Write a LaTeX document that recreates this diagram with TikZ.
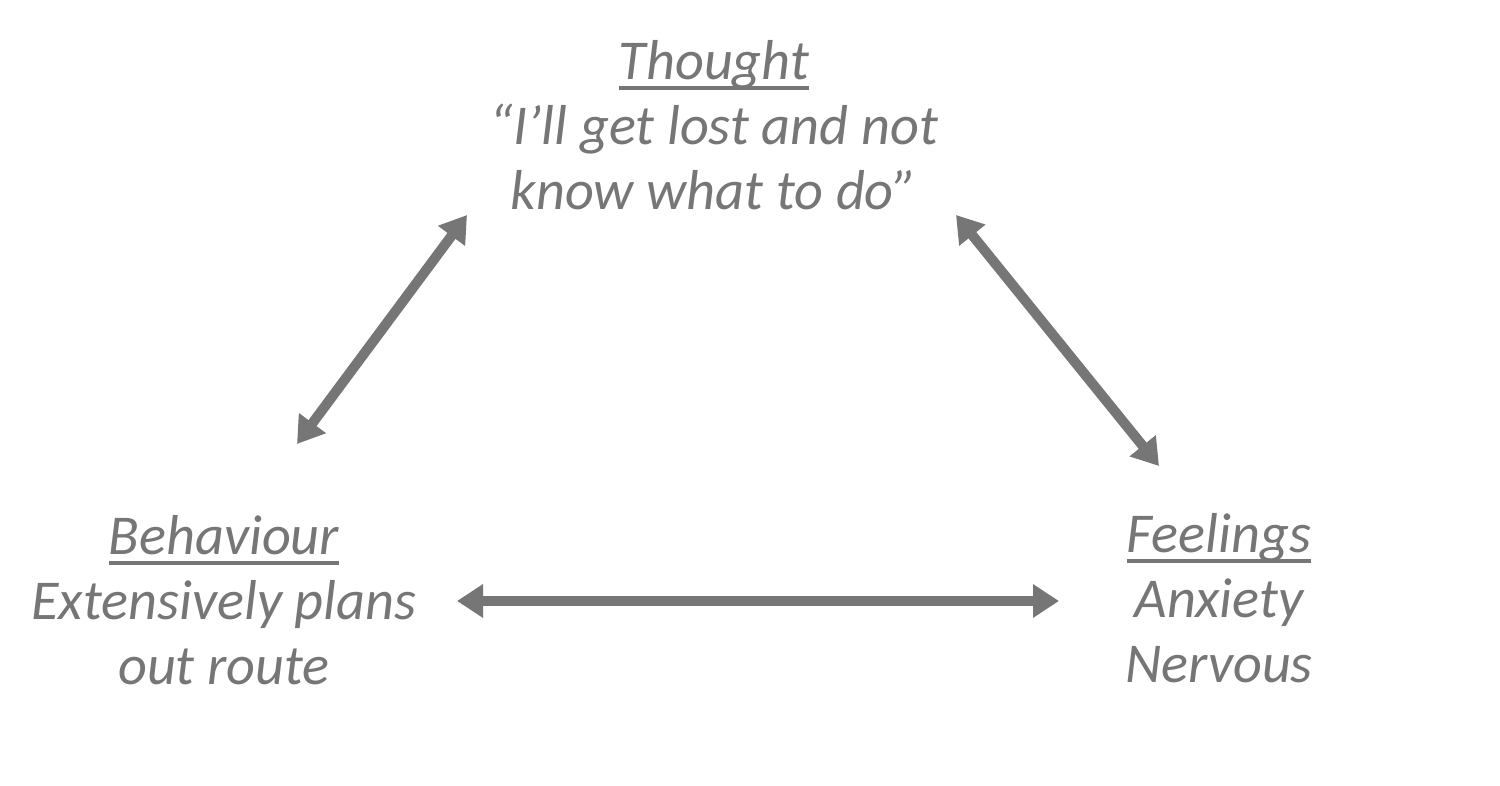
\documentclass[tikz,border=0pt]{standalone}
\usepackage{fontspec}
\setmainfont{Carlito}
\usetikzlibrary{arrows.meta}

\definecolor{cbtgray}{RGB}{118,118,118}
\newcommand{\headline}[1]{\setbox0\hbox{#1}\rlap{\color{cbtgray}\rule[-0.1cm]{\wd0}{0.035cm}}\box0}

\tikzset{
  cbtlabel/.style={text=cbtgray, align=center, inner sep=0pt,
    font=\fontsize{16pt}{18.4pt}\selectfont\itshape},
  cbtarrow/.style={draw=cbtgray, line width=0.1cm,
    {Triangle[length=0.26cm,width=0.32cm]}-{Triangle[length=0.26cm,width=0.32cm]}}
}

\begin{document}
\begin{tikzpicture}[x=0.01cm, y=-0.01cm]
    \useasboundingbox (0,0) rectangle (1500,786);
    \node[cbtlabel] (thought) at (714,125) {\headline{Thought}\\“I’ll get lost and not\\know what to do”};
    \node[cbtlabel] (behaviour) at (224,600) {\headline{Behaviour}\\Extensively plans\\out route};
    \node[cbtlabel] (feelings) at (1219,598) {\headline{Feelings}\\Anxiety\\Nervous};
    \coordinate (tl) at (467,215);
    \coordinate (bt) at (297,444);
    \coordinate (tr) at (956,215);
    \coordinate (ft) at (1159,466);
    \coordinate (br) at (457,601);
    \coordinate (fl) at (1059,601);
    \draw[cbtarrow] (bt) -- (tl);
    \draw[cbtarrow] (tr) -- (ft);
    \draw[cbtarrow] (br) -- (fl);
\end{tikzpicture}
\end{document}
